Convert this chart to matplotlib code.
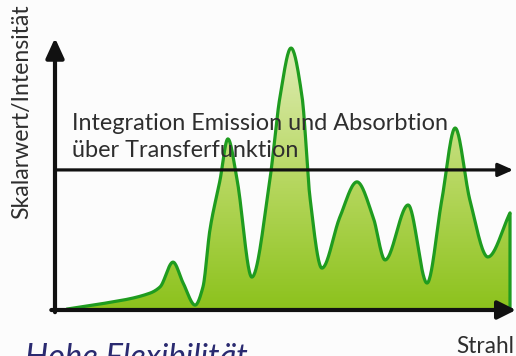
import numpy as np
import matplotlib
matplotlib.use("Agg")
import matplotlib.pyplot as plt
from matplotlib.colors import LinearSegmentedColormap
from matplotlib.patches import Polygon, FancyArrowPatch

# Sample values along the ray (position 0..100, intensity 0..100)
ray_pos = [2.8, 9.8, 20.6, 22.8, 25.6, 27.8, 30.4, 32.1, 33.6, 35.8, 37.5,
           39.5, 42.7, 46.6, 48.8, 51.2, 53.6, 55.3, 57.9, 61.8, 65.5, 69.0,
           71.6, 76.6, 80.7, 83.9, 86.8, 90.0, 93.9, 98.7]
intensity = [0.4, 2.2, 6.2, 8.5, 17.6, 9.9, 1.8, 8.5, 29.4, 47.8, 62.9,
             47.8, 12.1, 47.8, 78.3, 96.3, 78.3, 41.5, 15.4, 34.2, 47.1, 34.2,
             18.4, 38.6, 9.9, 40.4, 66.9, 40.4, 19.5, 35.7]

transfer_level = 51.5

label_y = "Skalarwert/Intensität"
label_x = "Strahl"
note_lines = ["Integration Emission und Absorbtion", "über Transferfunktion"]
headline = "Hohe Flexibilität"


def pchip(x, y, xs):
    """Monotone piecewise cubic Hermite curve through the samples."""
    x = np.asarray(x, float)
    y = np.asarray(y, float)
    h = np.diff(x)
    delta = np.diff(y) / h
    d = np.zeros_like(y)
    for k in range(1, len(x) - 1):
        if delta[k - 1] * delta[k] <= 0:
            d[k] = 0.0
        else:
            w1 = 2 * h[k] + h[k - 1]
            w2 = h[k] + 2 * h[k - 1]
            d[k] = (w1 + w2) / (w1 / delta[k - 1] + w2 / delta[k])
    d[0] = delta[0]
    d[-1] = delta[-1]
    idx = np.clip(np.searchsorted(x, xs) - 1, 0, len(x) - 2)
    t = (xs - x[idx]) / h[idx]
    h00 = 2 * t**3 - 3 * t**2 + 1
    h10 = t**3 - 2 * t**2 + t
    h01 = -2 * t**3 + 3 * t**2
    h11 = t**3 - t**2
    return (h00 * y[idx] + h10 * h[idx] * d[idx]
            + h01 * y[idx + 1] + h11 * h[idx] * d[idx + 1])


W, H = 516, 356
fig = plt.figure(figsize=(W / 100, H / 100), dpi=100)
fig.patch.set_facecolor("#fcfcfc")

ax = fig.add_axes([55 / W, (H - 310) / H, (516 - 55) / W, (310 - 38) / H])
ax.set_xlim(0, 100)
ax.set_ylim(0, 100)
ax.axis("off")

xs = np.linspace(ray_pos[0], ray_pos[-1], 800)
ys = pchip(ray_pos, intensity, xs)

# Gradient fill below the curve
cmap = LinearSegmentedColormap.from_list(
    "fill", [(0.0, "#8cc21c"), (0.45, "#b4d65c"), (1.0, "#e2eebb")])
grad = np.linspace(0, 1, 256).reshape(-1, 1)
im = ax.imshow(grad, cmap=cmap, origin="lower", extent=[0, 100, 0, 100],
               aspect="auto", zorder=1)
poly_pts = np.column_stack([np.r_[xs, xs[-1], xs[0]], np.r_[ys, 0, 0]])
clip = Polygon(poly_pts, closed=True, facecolor="none", edgecolor="none",
               transform=ax.transData)
ax.add_patch(clip)
im.set_clip_path(clip)

line_color = "#1f9c1f"
ax.plot(np.r_[xs, xs[-1]], np.r_[ys, 0], color=line_color, lw=2.3,
        solid_joinstyle="round", zorder=3)

# Axes arrows
arrow_kw = dict(color="#111111", transform=ax.transData, clip_on=False,
                shrinkA=0, shrinkB=0)
ax.add_patch(FancyArrowPatch((0, -0.8), (0, 100), lw=3.0,
                             arrowstyle="-|>,head_length=12,head_width=5.5",
                             zorder=5, **arrow_kw))
ax.add_patch(FancyArrowPatch((-0.8, 0), (100, 0), lw=3.0,
                             arrowstyle="-|>,head_length=11,head_width=5.5",
                             zorder=5, **arrow_kw))
ax.add_patch(FancyArrowPatch((0, transfer_level), (99.4, transfer_level),
                             lw=2.3,
                             arrowstyle="-|>,head_length=9,head_width=4",
                             zorder=5, **arrow_kw))

text_color = "#2e2e2e"
font = ["Lato", "DejaVu Sans"]


def fit_length(txt, target_px, vertical=False):
    fig.canvas.draw()
    bb = txt.get_window_extent()
    size = bb.height if vertical else bb.width
    txt.set_fontsize(txt.get_fontsize() * target_px / size)


t1 = ax.text(3.7, 66.2, note_lines[0], fontsize=14, color=text_color,
             family=font, va="baseline", ha="left", zorder=6)
t2 = ax.text(3.7, 56.3, note_lines[1], fontsize=14, color=text_color,
             family=font, va="baseline", ha="left", zorder=6)
ty = fig.text(22 / W, (H - 112) / H, label_y, rotation=90, fontsize=14,
              color=text_color, family=font, ha="center", va="center")
tx = fig.text(514 / W, (H - 353) / H, label_x, fontsize=14,
              color=text_color, family=font, ha="right", va="baseline")
th = fig.text(25 / W, (H - 343) / H, headline, fontsize=20,
              color="#2a2a70", family=font, style="italic",
              ha="left", va="top")

fit_length(t1, 379)
t2.set_fontsize(t1.get_fontsize())
fit_length(ty, 214, vertical=True)
fit_length(tx, 58)
fit_length(th, 223)

fig.savefig("out.png", dpi=100, facecolor=fig.get_facecolor())
